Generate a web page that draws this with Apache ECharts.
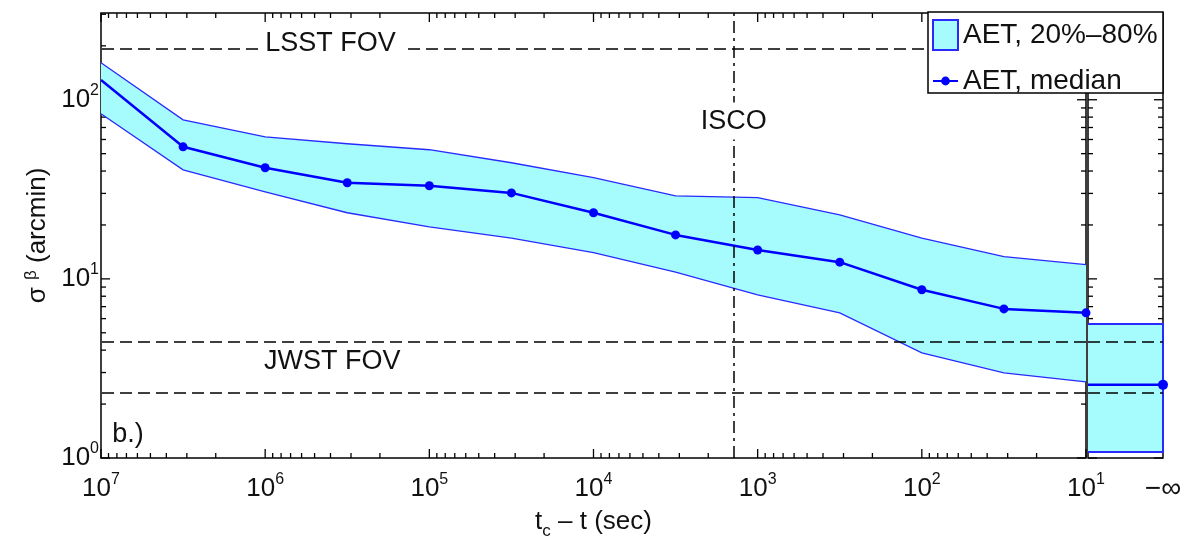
<!DOCTYPE html>
<html><head><meta charset="utf-8">
<script src="https://cdn.jsdelivr.net/npm/echarts@6/dist/echarts.min.js"></script>
<style>html,body{margin:0;padding:0;background:#fff}#c{width:1184px;height:540px}</style>
</head><body><div id="c"></div>
<script>
// ---- data ----
const times  = [1e7, 3.162e6, 1e6, 3.162e5, 1e5, 3.162e4, 1e4, 3162, 1000, 316.2, 100, 31.62, 10];
const median = [129, 54.6, 41.7, 34.4, 33.1, 30.2, 23.4, 17.6, 14.5, 12.4, 8.7, 6.8, 6.46];
const upper  = [161, 77.3, 62.1, 56.8, 52.6, 44.5, 36.7, 29.1, 28.4, 22.8, 16.9, 13.3, 12.0];
const lower  = [83.5, 40.6, 30.6, 23.4, 19.5, 16.9, 14.0, 10.9, 8.14, 6.46, 3.86, 2.99, 2.66];
const infMedian = 2.56, infUpper = 5.6, infLower = 1.08;   // the "-inf" panel
const xTickExp = [7, 6, 5, 4, 3, 2, 1];
const yTickExp = [0, 1, 2];
const lsstFov = 193;
const jwstFov = [4.45, 2.3];
const iscoTime = 1400;
const xMin = 10, xMax = 1e7, yMin = 1, yMax = 305;
const infLabel = '−∞';
const bandName = 'AET, 20%–80%', medName = 'AET, median';

const FONT = 'Liberation Sans, Arial, sans-serif';
const TXT = '#111';
const BAND = '#a6fcfc', EDGE = '#2a2aff', MED = '#0000ff';

function isPow10(v) { const e = Math.log10(v); return Math.abs(e - Math.round(e)) < 1e-6; }
const powRich = {
  b: { fontSize: 26, lineHeight: 30, verticalAlign: 'middle', fontFamily: FONT, color: TXT },
  s: { fontSize: 16, lineHeight: 16, padding: [0, 0, 18, 0], verticalAlign: 'middle', fontFamily: FONT, color: TXT }
};
function powFmt(v) { return isPow10(v) ? '{b|10}{s|' + Math.round(Math.log10(v)) + '}' : ''; }

function tickLine(x1, y1, x2, y2) {
  return { type: 'line', shape: { x1, y1, x2, y2 }, style: { stroke: '#000', lineWidth: 1.3 } };
}
const MAJ = 9, MIN = 5;
function ticksMain(params, api) {
  if (params.dataIndex !== 0) return null;
  const ch = [];
  for (let n = 1; n <= 7; n++) for (let k = 1; k <= 9; k++) {
    const v = k * Math.pow(10, n); if (v > xMax) break;
    const len = k === 1 ? MAJ : MIN;
    const b = api.coord([v, yMin]), t = api.coord([v, yMax]);
    ch.push(tickLine(b[0], b[1], b[0], b[1] - len), tickLine(t[0], t[1], t[0], t[1] + len));
  }
  for (let n = 0; n <= 2; n++) for (let k = 1; k <= 9; k++) {
    const v = k * Math.pow(10, n); if (v > yMax) break;
    const len = k === 1 ? MAJ : MIN;
    const l = api.coord([xMax, v]), r = api.coord([xMin, v]);
    ch.push(tickLine(l[0], l[1], l[0] + len, l[1]), tickLine(r[0], r[1], r[0] - len, r[1]));
  }
  return { type: 'group', children: ch };
}
function ticksInf(params, api) {
  if (params.dataIndex !== 0) return null;
  const ch = [];
  for (let n = 0; n <= 2; n++) for (let k = 1; k <= 9; k++) {
    const v = k * Math.pow(10, n); if (v > yMax) break;
    const len = k === 1 ? MAJ : MIN;
    const l = api.coord([0, v]), r = api.coord([1, v]);
    ch.push(tickLine(l[0], l[1], l[0] + len, l[1]), tickLine(r[0], r[1], r[0] - len, r[1]));
  }
  return { type: 'group', children: ch };
}
function bandMain(params, api) {
  if (params.dataIndex !== 0) return null;
  const top = times.map((t, i) => api.coord([t, upper[i]]));
  const bot = times.map((t, i) => api.coord([t, lower[i]]));
  return { type: 'group', children: [
    { type: 'polygon', shape: { points: top.concat(bot.slice().reverse()) }, style: { fill: BAND } },
    { type: 'polyline', shape: { points: top }, style: { stroke: EDGE, lineWidth: 1.3, fill: null } },
    { type: 'polyline', shape: { points: bot }, style: { stroke: EDGE, lineWidth: 1.3, fill: null } }
  ] };
}
function bandInf(params, api) {
  if (params.dataIndex !== 0) return null;
  const a = api.coord([0, infUpper]), b = api.coord([1, infUpper]), c = api.coord([1, infLower]), d = api.coord([0, infLower]);
  return { type: 'group', children: [
    { type: 'polygon', shape: { points: [a, b, c, d] }, style: { fill: BAND } },
    { type: 'polyline', shape: { points: [a, b, c, d] }, style: { stroke: EDGE, lineWidth: 2, fill: null } }
  ] };
}
function noteLabel(text, bg) {
  const l = { show: true, formatter: text, position: 'inside', color: TXT, fontSize: 27, fontFamily: FONT,
              textBorderWidth: 0, opacity: 1 };
  if (bg) { l.backgroundColor = '#fff'; l.padding = bg; }
  return l;
}

const dashed = { color: '#000', width: 1.5, type: [12, 6] };
const chart = echarts.init(document.getElementById('c'), null, { renderer: 'canvas' });
chart.setOption({
  animation: false,
  backgroundColor: '#fff',
  textStyle: { fontFamily: FONT, color: TXT },
  grid: [
    { left: 101, top: 13, width: 985, height: 445, show: true, borderColor: '#000', borderWidth: 1.5,
      containLabel: false, outerBoundsMode: 'none' },
    { left: 1088, top: 13, width: 75, height: 445, show: true, borderColor: '#000', borderWidth: 1.5,
      containLabel: false, outerBoundsMode: 'none' }
  ],
  xAxis: [
    { gridIndex: 0, type: 'log', logBase: 10, inverse: true, min: xMin, max: xMax, splitNumber: 6,
      axisLine: { show: false }, axisTick: { show: false }, splitLine: { show: false },
      axisLabel: { margin: 16, formatter: powFmt, rich: powRich, showMinLabel: true, showMaxLabel: true },
      name: '{t|t}{c|c}{t| – t (sec)}', nameLocation: 'middle', nameGap: 49, nameMoveOverlap: false,
      nameTextStyle: { rich: {
        t: { fontSize: 26, lineHeight: 30, verticalAlign: 'middle', fontFamily: FONT, color: TXT },
        c: { fontSize: 17, lineHeight: 17, padding: [18, 0, 0, 0], verticalAlign: 'middle', fontFamily: FONT, color: TXT } } } },
    { gridIndex: 1, type: 'value', min: 0, max: 1, interval: 1,
      axisLine: { show: false }, axisTick: { show: false }, splitLine: { show: false },
      axisLabel: { margin: 17, fontSize: 28, color: TXT, fontFamily: FONT, formatter: v => v === 1 ? infLabel : '' } }
  ],
  yAxis: [
    { gridIndex: 0, type: 'log', logBase: 10, min: yMin, max: yMax, splitNumber: 3,
      axisLine: { show: false }, axisTick: { show: false }, splitLine: { show: false },
      axisLabel: { margin: 2, formatter: powFmt, rich: powRich, showMaxLabel: false },
      name: '{a|σ} {b|β} {a|(arcmin)}', nameLocation: 'middle', nameRotate: 90, nameGap: 48, nameMoveOverlap: false,
      nameTextStyle: { fontSize: 26, lineHeight: 30, rich: {
        a: { fontSize: 26, lineHeight: 30, verticalAlign: 'middle', fontFamily: FONT, color: TXT },
        b: { fontSize: 17, lineHeight: 17, padding: [0, 0, 14, 0], verticalAlign: 'middle', fontFamily: FONT, color: TXT } } } },
    { gridIndex: 1, type: 'log', logBase: 10, min: yMin, max: yMax, splitNumber: 3,
      axisLine: { show: false }, axisTick: { show: false }, splitLine: { show: false }, axisLabel: { show: false } }
  ],
  legend: [
    { left: 932, top: 19, padding: 0, z: 60, selectedMode: false, itemWidth: 25, itemHeight: 30,
      textStyle: { fontSize: 28, color: TXT, fontFamily: FONT },
      data: [{ name: bandName, icon: 'rect', itemStyle: { color: BAND, borderColor: EDGE, borderWidth: 2 } }] },
    { left: 932, top: 67, padding: 0, z: 60, selectedMode: false, itemWidth: 25, itemHeight: 11,
      textStyle: { fontSize: 28, color: TXT, fontFamily: FONT },
      data: [{ name: medName }] }
  ],
  graphic: [
    { type: 'rect', z: 50, shape: { x: 928, y: 12, width: 235, height: 81 },
      style: { fill: '#fff', stroke: '#000', lineWidth: 1.5 } }
  ],
  series: [
    { type: 'custom', name: 'ticks0', xAxisIndex: 0, yAxisIndex: 0, z: 1, silent: true,
      data: [[xMin, yMin]], renderItem: ticksMain },
    { type: 'custom', name: 'ticks1', xAxisIndex: 1, yAxisIndex: 1, z: 1, silent: true,
      data: [[0, yMin]], renderItem: ticksInf },
    { type: 'custom', name: bandName, xAxisIndex: 0, yAxisIndex: 0, z: 2, silent: true,
      data: times.map((t, i) => [t, upper[i], lower[i]]), encode: { x: 0, y: [1, 2] }, renderItem: bandMain },
    { type: 'custom', name: bandName, xAxisIndex: 1, yAxisIndex: 1, z: 2, silent: true,
      data: [[0, infUpper, infLower]], encode: { x: 0, y: [1, 2] }, renderItem: bandInf },
    { type: 'line', name: medName, xAxisIndex: 0, yAxisIndex: 0, z: 3, silent: true,
      data: times.map((t, i) => i === 0 ? { value: [t, median[i]], symbol: 'none' } : [t, median[i]]),
      symbol: 'circle', symbolSize: 9, lineStyle: { color: MED, width: 2.5 }, itemStyle: { color: MED },
      markLine: { silent: true, symbol: 'none', label: { show: false }, lineStyle: dashed,
        data: [ { yAxis: lsstFov }, { yAxis: jwstFov[0] }, { yAxis: jwstFov[1] },
                { xAxis: iscoTime, lineStyle: { color: '#000', width: 1.5, type: [12, 5, 3, 5] } } ] } },
    { type: 'line', name: medName, xAxisIndex: 1, yAxisIndex: 1, z: 3, silent: true,
      data: [{ value: [0, infMedian], symbol: 'none' }, [1, infMedian]],
      symbol: 'circle', symbolSize: 10, lineStyle: { color: MED, width: 2.5 }, itemStyle: { color: MED },
      markLine: { silent: true, symbol: 'none', label: { show: false }, lineStyle: dashed,
        data: [ { yAxis: jwstFov[0] }, { yAxis: jwstFov[1] } ] } },
    { type: 'scatter', name: 'notes', xAxisIndex: 0, yAxisIndex: 0, z: 10, silent: true,
      symbolSize: 1, itemStyle: { color: '#fff', opacity: 1 },
      data: [
        { value: [4.0e5, 205], label: noteLabel('LSST FOV', [2, 7]) },
        { value: [3.9e5, 3.45], label: noteLabel('JWST FOV') },
        { value: [iscoTime, 76], label: noteLabel('ISCO', [5, 1]) },
        { value: [6.85e6, 1.36], label: noteLabel('b.)') }
      ] }
  ]
});
</script></body></html>
